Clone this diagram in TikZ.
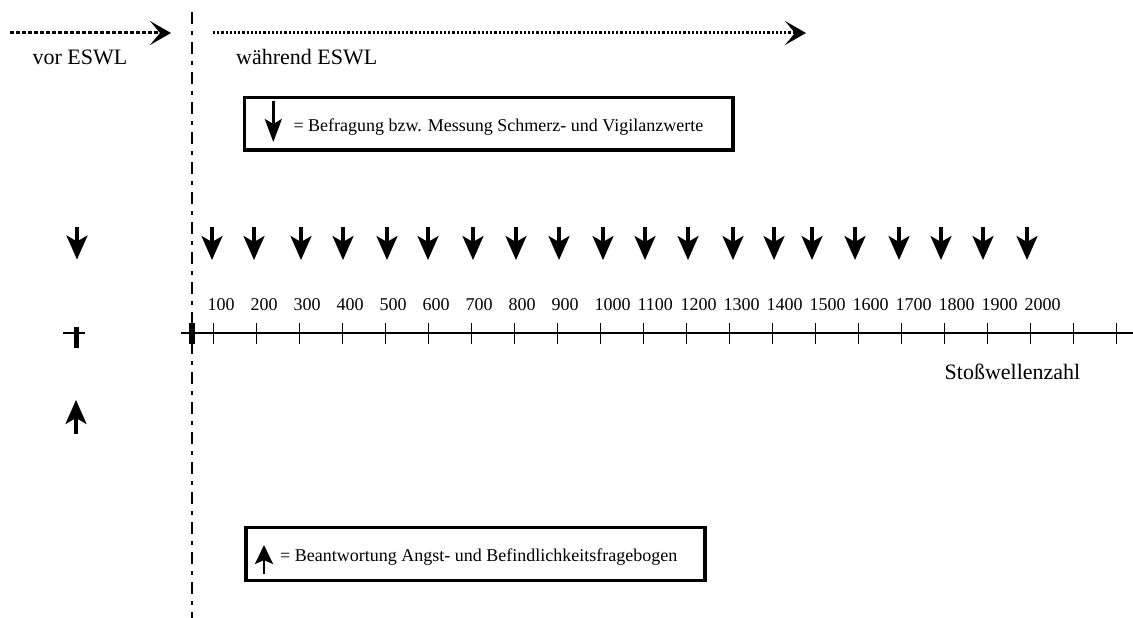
\documentclass[tikz,border=0pt]{standalone}
\usepackage{fontspec}
\setmainfont{Liberation Serif}
\usetikzlibrary{arrows.meta}
\begin{document}
\begin{tikzpicture}[x=1pt,y=-1pt,
  bigtext/.style={font=\fontsize{22}{24}\selectfont, inner sep=0pt, anchor=base},
  smalltext/.style={font=\fontsize{18}{20}\selectfont, inner sep=0pt, anchor=base west},
  measarrow/.style={line width=3.2pt, -{Stealth[length=24pt,width=21pt,inset=6pt]}},
  legarrow/.style={line width=2.8pt, -{Stealth[length=23pt,width=17pt,inset=5pt]}},
  phasearrow/.style={line width=3pt, -{Stealth[length=21pt,width=24pt,inset=10pt]}},
  tickline/.style={line width=1.1pt},
  legbox/.style={line width=3.2pt},
]
\useasboundingbox (0,0) rectangle (1133,618);

% phase arrows
\coordinate (pa1) at (10,33);
\coordinate (pa2) at (171,33);
\coordinate (pb1) at (213,33);
\coordinate (pb2) at (806,33);
\draw[phasearrow, dash pattern=on 3.5pt off 2.5pt] (pa1) -- (pa2);
\draw[phasearrow, dash pattern=on 2.2pt off 2pt] (pb1) -- (pb2);
\node[bigtext] (vor) at (80,64.5) {vor ESWL};
\node[bigtext] (waehrend) at (306.7,64.5) {während ESWL};

% separator
\coordinate (s1) at (192,12);
\coordinate (s2) at (192,618);
\draw[line width=1.5pt, dash pattern=on 12pt off 7pt on 4pt off 7pt] (s1) -- (s2);

% legend boxes
\draw[legbox] (244.5,97.5) rectangle (733,150);
\coordinate (l1a) at (273.3,101);
\coordinate (l1b) at (273.3,142);
\draw[legarrow] (l1a) -- (l1b);
\node[smalltext] (leg1) at (293.3,131) {= Befragung bzw. Messung Schmerz- und Vigilanzwerte};

\draw[legbox] (246,527.5) rectangle (705,580.5);
\coordinate (l2a) at (264,574);
\coordinate (l2b) at (264,545);
\draw[legarrow, -{Stealth[length=19pt,width=18pt,inset=4pt]}] (l2a) -- (l2b);
\node[smalltext] (leg2) at (280,561) {= Beantwortung Angst- und Befindlichkeitsfragebogen};

% left column symbols
\coordinate (d0a) at (77,227);
\coordinate (d0b) at (77,259.5);
\draw[measarrow] (d0a) -- (d0b);
\coordinate (h0a) at (63,333);
\coordinate (h0b) at (85,333);
\draw[tickline] (h0a) -- (h0b);
\coordinate (b0a) at (76.3,326.5);
\coordinate (b0b) at (76.3,347.5);
\draw[line width=5pt] (b0a) -- (b0b);
\coordinate (u0a) at (76,433.5);
\coordinate (u0b) at (76,400);
\draw[measarrow] (u0a) -- (u0b);

% axis
\coordinate (ax1) at (181,333);
\coordinate (ax2) at (1133,333);
\draw[tickline] (ax1) -- (ax2);
\coordinate (t0a) at (192,323);
\coordinate (t0b) at (192,344);
\draw[line width=5.5pt] (t0a) -- (t0b);
\foreach \k in {0,...,21}{
  \pgfmathsetmacro{\tx}{213.3+43*\k}
  \coordinate (ta\k) at (\tx,323);
  \coordinate (tb\k) at (\tx,344);
  \draw[tickline] (ta\k) -- (tb\k);
}
\foreach \k in {0,...,19}{
  \pgfmathsetmacro{\tx}{213.3+43*\k-6}
  \pgfmathtruncatemacro{\val}{(\k+1)*100}
  \node[smalltext] (lab\k) at (\tx,310.7) {\val};
}
\node[bigtext] (stoss) at (1012.5,379.3) {Stoßwellenzahl};

% measurement arrows
\foreach \x [count=\i] in {212,254,301,343,387,428,473,516,559,603,645,688,733,774,812,855,899,941,983,1027}{
  \coordinate (ma\i) at (\x,227);
  \coordinate (mb\i) at (\x,260);
  \draw[measarrow] (ma\i) -- (mb\i);
}
\end{tikzpicture}
\end{document}
